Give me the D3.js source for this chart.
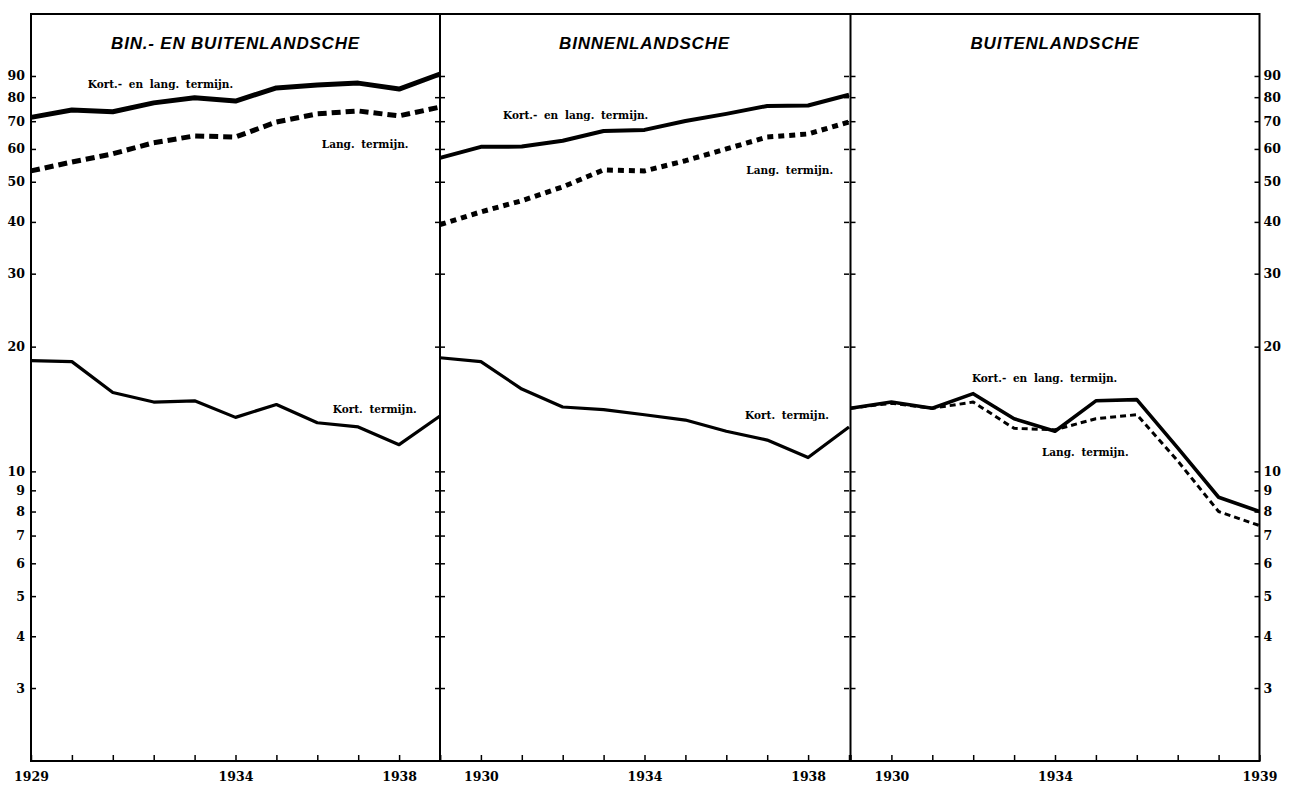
<!DOCTYPE html>
<html>
<head>
<meta charset="utf-8">
<script src="https://cdn.jsdelivr.net/npm/d3@7"></script>
<style>
  body { margin: 0; background: #fff; }
  svg { display: block; }
  .tick line { stroke: #000; stroke-width: 1.5; }
  .domain { display: none; }
  .ylab text { font-family: "DejaVu Serif", serif; font-weight: bold; font-size: 12.5px; fill: #000; }
  .xlab text { font-family: "DejaVu Serif", serif; font-weight: bold; font-size: 12.5px; fill: #000; }
  .title { font-family: "Liberation Sans", Arial, sans-serif; font-weight: bold; font-style: italic; font-size: 17px; letter-spacing: 0.8px; }
  .note { font-family: "DejaVu Serif", serif; font-weight: bold; font-size: 10.5px; word-spacing: 3px; }
</style>
</head>
<body>
<svg class="chart_termijn" width="1291" height="789"></svg>
<script>
var years = [1929, 1930, 1931, 1932, 1933, 1934, 1935, 1936, 1937, 1938, 1939];

// bin- en buitenlandsche
var binBuitenTotaal = [71.5, 74.5, 73.8, 77.5, 79.7, 78.3, 84.2, 85.6, 86.5, 83.7, 91];
var binBuitenLang   = [53.1, 55.8, 58.4, 62.1, 64.5, 64.1, 69.7, 72.9, 74.1, 72.1, 75.7];
var binBuitenKort   = [18.5, 18.4, 15.5, 14.7, 14.8, 13.5, 14.5, 13.1, 12.8, 11.6, 13.6];

// binnenlandsche
var binnenTotaal = [57.1, 60.7, 60.8, 62.8, 66.3, 66.7, 70.1, 72.9, 76.2, 76.4, 81.1];
var binnenLang   = [39.4, 42.3, 45.0, 48.6, 53.4, 53.1, 56.2, 60.0, 64.1, 65.2, 69.7];
var binnenKort   = [18.8, 18.4, 15.8, 14.3, 14.1, 13.7, 13.3, 12.5, 11.9, 10.8, 12.8];

// buitenlandsche
var buitenTotaal = [14.2, 14.7, 14.2, 15.4, 13.4, 12.5, 14.8, 14.9, 11.4, 8.66, 8.0];
var buitenLang   = [14.2, 14.6, 14.2, 14.7, 12.7, 12.6, 13.4, 13.7, 10.6, 8.0, 7.4];

var panelTitles = ["BIN.- EN BUITENLANDSCHE", "BINNENLANDSCHE", "BUITENLANDSCHE"];
var yTicks = [3, 4, 5, 6, 7, 8, 9, 10, 20, 30, 40, 50, 60, 70, 80, 90];
var yearLabels = [[1929, 1934, 1938], [1930, 1934, 1938], [1930, 1934, 1939]];

var svg = d3.select(".chart_termijn");
var plotTop = 14, plotBottom = 761;
var panelLeft = [31, 440, 850.5];
var panelWidth = 409;

var y = d3.scaleLog().domain([2, 127]).range([plotBottom, plotTop]);

var panels = [
  { lines: [
      { data: binBuitenTotaal, width: 5, dash: null },
      { data: binBuitenLang, width: 5, dash: "9,5" },
      { data: binBuitenKort, width: 3.2, dash: null }
    ],
    notes: [
      { text: "Kort.- en lang. termijn.", year: 1930.39, value: 84 },
      { text: "Lang. termijn.", year: 1936.11, value: 60.4 },
      { text: "Kort. termijn.", year: 1936.38, value: 13.8 }
    ] },
  { lines: [
      { data: binnenTotaal, width: 4, dash: null },
      { data: binnenLang, width: 5, dash: "6,5" },
      { data: binnenKort, width: 3.2, dash: null }
    ],
    notes: [
      { text: "Kort.- en lang. termijn.", year: 1930.54, value: 70.9 },
      { text: "Lang. termijn.", year: 1936.49, value: 52.3 },
      { text: "Kort. termijn.", year: 1936.46, value: 13.4 }
    ] },
  { lines: [
      { data: buitenLang, width: 3, dash: "6,4" },
      { data: buitenTotaal, width: 3.6, dash: null }
    ],
    notes: [
      { text: "Kort.- en lang. termijn.", year: 1931.97, value: 16.4 },
      { text: "Lang. termijn.", year: 1933.68, value: 10.87 }
    ] }
];

panels.forEach(function(p, i) {
  var x = d3.scaleLinear().domain([1929, 1939]).range([panelLeft[i], panelLeft[i] + panelWidth]);
  var g = svg.append("g");

  // year ticks, pointing up
  g.append("g")
    .attr("class", "xlab")
    .attr("transform", "translate(0," + plotBottom + ")")
    .call(d3.axisBottom(x)
      .tickValues(years)
      .tickSize(-6)
      .tickPadding(11)
      .tickFormat(function(d) { return yearLabels[i].indexOf(d) >= 0 ? d : ""; }));

  // ticks on the left edge of the panel, pointing in
  g.append("g")
    .attr("class", "ylab")
    .attr("transform", "translate(" + x(1929) + ",0)")
    .call(d3.axisRight(y).tickValues(yTicks).tickSize(5).tickFormat(""));

  // ticks on the right edge, pointing in
  g.append("g")
    .attr("class", "ylab")
    .attr("transform", "translate(" + x(1939) + ",0)")
    .call(d3.axisLeft(y).tickValues(yTicks).tickSize(5).tickFormat(""));

  g.append("text")
    .attr("class", "title")
    .attr("x", (x(1929) + x(1939)) / 2)
    .attr("y", 49)
    .attr("text-anchor", "middle")
    .text(panelTitles[i]);

  var line = d3.line()
    .x(function(d, k) { return x(years[k]); })
    .y(function(d) { return y(d); });

  p.lines.forEach(function(l) {
    g.append("path")
      .datum(l.data)
      .attr("d", line)
      .attr("fill", "none")
      .attr("stroke", "#000")
      .attr("stroke-width", l.width)
      .attr("stroke-linejoin", "round")
      .attr("stroke-dasharray", l.dash);
  });

  p.notes.forEach(function(n) {
    g.append("text")
      .attr("class", "note")
      .attr("x", x(n.year))
      .attr("y", y(n.value))
      .text(n.text);
  });
});

// value labels on the outer sides
svg.append("g")
  .attr("class", "ylab")
  .attr("transform", "translate(" + panelLeft[0] + ",0)")
  .call(d3.axisLeft(y).tickValues(yTicks).tickSize(0).tickPadding(6).tickFormat(d3.format("d")));

svg.append("g")
  .attr("class", "ylab")
  .attr("transform", "translate(" + (panelLeft[2] + panelWidth) + ",0)")
  .call(d3.axisRight(y).tickValues(yTicks).tickSize(0).tickPadding(4).tickFormat(d3.format("d")));

// frame and dividers
svg.append("rect")
  .attr("x", panelLeft[0])
  .attr("y", plotTop)
  .attr("width", panelLeft[2] + panelWidth - panelLeft[0])
  .attr("height", plotBottom - plotTop)
  .attr("fill", "none")
  .attr("stroke", "#000")
  .attr("stroke-width", 2);

svg.selectAll(".divider")
  .data([panelLeft[1], panelLeft[2]])
  .enter()
  .append("line")
  .attr("class", "divider")
  .attr("x1", function(d) { return d; })
  .attr("x2", function(d) { return d; })
  .attr("y1", plotTop)
  .attr("y2", plotBottom)
  .attr("stroke", "#000")
  .attr("stroke-width", 2);
</script>
</body>
</html>
